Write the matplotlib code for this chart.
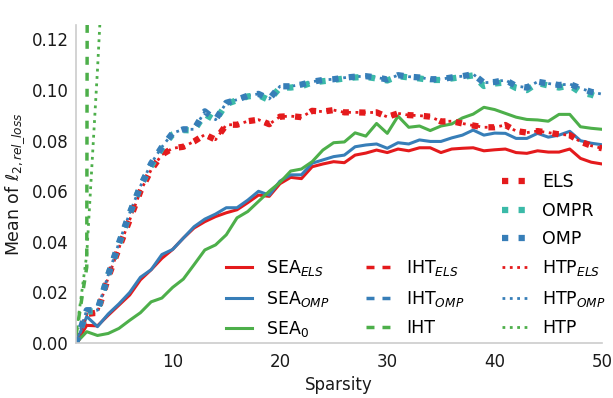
import matplotlib
matplotlib.use("Agg")
import matplotlib.pyplot as plt
from matplotlib.lines import Line2D

plt.rcParams['font.family'] = ['DejaVu Sans']
plt.rcParams['mathtext.fontset'] = 'dejavusans'
plt.rcParams['font.size'] = 12

red = '#e41a1c'
blue = '#377eb8'
green = '#4daf4a'
teal = '#3bbaa8'

sparsity = list(range(1, 51))

sea_els = [0.000, 0.007, 0.0068, 0.011, 0.015, 0.019, 0.025, 0.029, 0.0335, 0.037,
           0.0415, 0.0455, 0.048, 0.050, 0.0515, 0.0527, 0.0555, 0.0585, 0.058, 0.063,
           0.0655, 0.065, 0.0697, 0.0708, 0.0717, 0.0713, 0.0743, 0.0751, 0.0763, 0.0753,
           0.0767, 0.076, 0.0772, 0.0772, 0.0753, 0.0767, 0.0770, 0.0772, 0.076, 0.0764,
           0.0767, 0.0753, 0.075, 0.076, 0.0755, 0.0755, 0.0767, 0.0730, 0.0715, 0.0708]

sea_omp = [0.000, 0.0105, 0.0065, 0.0115, 0.0155, 0.020, 0.026, 0.029, 0.035, 0.037,
           0.0415, 0.046, 0.049, 0.051, 0.0535, 0.0535, 0.0565, 0.060, 0.0585, 0.064,
           0.0665, 0.0665, 0.0711, 0.0724, 0.0737, 0.0743, 0.0776, 0.0783, 0.0787, 0.077,
           0.0792, 0.0787, 0.0803, 0.0797, 0.0797, 0.0811, 0.0822, 0.0842, 0.0822, 0.0830,
           0.0829, 0.0809, 0.0809, 0.0829, 0.0814, 0.0822, 0.0837, 0.0800, 0.0790, 0.0784]

sea_0 = [0.000, 0.0045, 0.003, 0.0038, 0.0058, 0.009, 0.012, 0.0163, 0.0178, 0.022,
         0.0253, 0.031, 0.0368, 0.0388, 0.0428, 0.0495, 0.052, 0.056, 0.0600, 0.0635,
         0.068, 0.0688, 0.0717, 0.0763, 0.0792, 0.0795, 0.0831, 0.0818, 0.0868, 0.0829,
         0.0897, 0.0853, 0.0858, 0.084, 0.0858, 0.0866, 0.0890, 0.0905, 0.0932, 0.0923,
         0.0908, 0.0893, 0.0884, 0.0882, 0.0877, 0.0904, 0.0904, 0.0855, 0.0849, 0.0845]

els = [0.000, 0.0115, 0.012, 0.026, 0.0376, 0.0487, 0.060, 0.0685, 0.0745, 0.0770,
       0.0776, 0.0797, 0.0824, 0.0804, 0.0863, 0.0863, 0.0877, 0.0883, 0.0865, 0.0895,
       0.0897, 0.0893, 0.0918, 0.0915, 0.0921, 0.0912, 0.0912, 0.0911, 0.0912, 0.0894,
       0.0908, 0.0901, 0.0899, 0.0895, 0.0876, 0.0877, 0.0868, 0.0860, 0.0853, 0.0853,
       0.0862, 0.0838, 0.0832, 0.0838, 0.0832, 0.0825, 0.0822, 0.0796, 0.0780, 0.0770]

omp = [0.000, 0.013, 0.013, 0.027, 0.0396, 0.0514, 0.062, 0.071, 0.0775, 0.083,
       0.0845, 0.0845, 0.0916, 0.0883, 0.095, 0.0962, 0.0978, 0.0985, 0.0965, 0.1015,
       0.1015, 0.1022, 0.1033, 0.104, 0.1043, 0.1049, 0.1053, 0.1055, 0.105, 0.1042,
       0.1059, 0.1053, 0.105, 0.1043, 0.1043, 0.105, 0.1055, 0.1063, 0.1029, 0.1032,
       0.104, 0.1016, 0.101, 0.1033, 0.1026, 0.102, 0.1024, 0.1007, 0.0993, 0.0984]

ompr = [0.000, 0.0125, 0.0125, 0.027, 0.039, 0.051, 0.062, 0.070, 0.077, 0.0825,
        0.0842, 0.0840, 0.0905, 0.0880, 0.0945, 0.0960, 0.0975, 0.0980, 0.0960, 0.1010,
        0.1010, 0.1015, 0.1030, 0.1035, 0.1040, 0.1046, 0.1050, 0.1052, 0.1046, 0.1038,
        0.1055, 0.1050, 0.1046, 0.1040, 0.1040, 0.1046, 0.1052, 0.1058, 0.1016, 0.1026,
        0.1030, 0.1008, 0.1000, 0.1028, 0.1018, 0.1010, 0.1018, 0.0990, 0.0982, 0.0966]

# IHT / HTP without ELS/OMP blow up right away, only the first points are on scale
iht_x = [1, 2, 3]
iht = [0.003, 0.030, 2.4]
htp_x = [1, 2, 3, 4, 5]
htp = [0.003, 0.035, 0.108, 0.19, 0.35]

fig, ax = plt.subplots(figsize=(6.13, 3.98), dpi=100)
fig.subplots_adjust(left=0.124, right=0.982, bottom=0.138, top=0.937)

h_sea_els, = ax.plot(sparsity, sea_els, color=red, lw=2.2, label=r'SEA$_{ELS}$')
h_sea_omp, = ax.plot(sparsity, sea_omp, color=blue, lw=2.2, label=r'SEA$_{OMP}$')
h_sea_0, = ax.plot(sparsity, sea_0, color=green, lw=2.2, label=r'SEA$_0$')

# IHT_ELS / IHT_OMP sit right under the ELS / OMP curves, so only in the legend
dash = (2.3, 2.3)
h_iht_els = Line2D([], [], color=red, lw=2.5, dashes=dash, label=r'IHT$_{ELS}$')
h_iht_omp = Line2D([], [], color=blue, lw=2.5, dashes=dash, label=r'IHT$_{OMP}$')
h_iht, = ax.plot(iht_x, iht, color=green, lw=2.5, dashes=dash, label='IHT')

h_htp_els, = ax.plot(sparsity, els, color=red, lw=2, ls=':', label=r'HTP$_{ELS}$')
h_htp_omp, = ax.plot(sparsity, omp, color=blue, lw=2, ls=':', label=r'HTP$_{OMP}$')
h_htp, = ax.plot(htp_x, htp, color=green, lw=2, ls=':', label='HTP')

h_els, = ax.plot(sparsity, els, color=red, lw=4.5, ls=':', label='ELS')
h_ompr, = ax.plot(sparsity, ompr, color=teal, lw=4.5, ls=':', label='OMPR')
h_omp, = ax.plot(sparsity, omp, color=blue, lw=4.5, ls=':', label='OMP')

ax.set_xlim(1, 50)
ax.set_ylim(0, 0.1257)
ax.set_xticks([10, 20, 30, 40, 50])
ax.set_yticks([0, 0.02, 0.04, 0.06, 0.08, 0.10, 0.12])
ax.set_yticklabels(['0.00', '0.02', '0.04', '0.06', '0.08', '0.10', '0.12'])
ax.tick_params(length=0, colors='#1a1a1a', labelsize=12)
ax.tick_params(axis='x', pad=7)
ax.tick_params(axis='y', pad=5)

for side in ['top', 'right']:
    ax.spines[side].set_visible(False)
for side in ['left', 'bottom']:
    ax.spines[side].set_color('#cccccc')
    ax.spines[side].set_linewidth(1.2)

ax.set_xlabel('Sparsity', fontsize=12, color='#1a1a1a')
ax.set_ylabel(r'Mean of $\ell_{2,rel\_loss}$', fontsize=12.5, color='#1a1a1a')

blank = Line2D([], [], color='none')
handles = [blank, blank, blank, h_sea_els, h_sea_omp, h_sea_0,
           blank, blank, blank, h_iht_els, h_iht_omp, h_iht,
           h_els, h_ompr, h_omp, h_htp_els, h_htp_omp, h_htp]
labels = [h.get_label() if h is not blank else '' for h in handles]
ax.legend(handles, labels, ncol=3, loc='lower right', bbox_to_anchor=(1.02, -0.01),
          frameon=False, fontsize=12.5, handlelength=1.5, columnspacing=2.15,
          labelspacing=0.6, borderaxespad=0)

plt.savefig('out.png', dpi=100)
plt.close()
